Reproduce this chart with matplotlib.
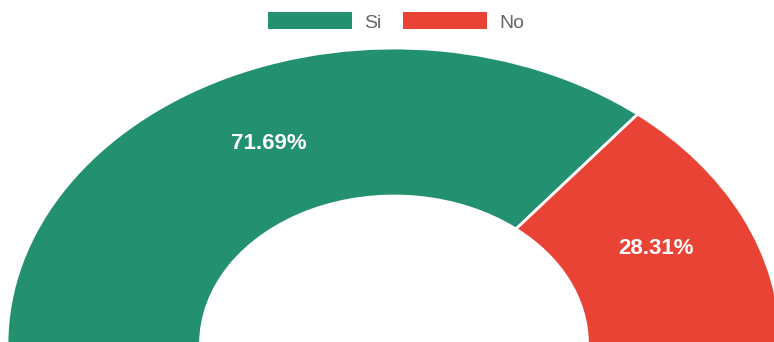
import numpy as np
import matplotlib
matplotlib.use("Agg")
import matplotlib.pyplot as plt
from matplotlib.patches import Patch

# answer shares, in percent
labels = ["Si", "No"]
values = [71.69, 28.31]
colors = ["#239070", "#E94335"]

plt.rcParams["font.family"] = ["Liberation Sans", "DejaVu Sans"]

W, H = 774, 342
fig = plt.figure(figsize=(W / 100, H / 100), dpi=100)
ax = fig.add_axes([0, 0, 1, 1])

# half doughnut: shares of 180 degrees, drawn clockwise from the left
halves = [v / 200 for v in values]
wedges, _ = ax.pie(halves, normalize=False, startangle=180, counterclock=False,
                   colors=colors, radius=1.0,
                   wedgeprops=dict(width=0.5, edgecolor="white", linewidth=2))

# the canvas is wider than tall, so the ring is an ellipse
cx, cy = 394, 344
rx, ry = 387, 296
ax.set_aspect("auto")
ax.set_xlim(-cx / rx, (W - cx) / rx)
ax.set_ylim((cy - H) / ry, cy / ry)
ax.axis("off")

# percentage labels in the middle of each ring segment
for w, v in zip(wedges, values):
    mid = np.deg2rad((w.theta1 + w.theta2) / 2)
    ax.text(0.75 * np.cos(mid), 0.75 * np.sin(mid), f"{v:.2f}%",
            ha="center", va="center", color="white",
            fontsize=16, fontweight="bold")

handles = [Patch(facecolor=c, edgecolor="none") for c in colors]
ax.legend(handles, labels, loc="center", ncol=2, frameon=False,
          bbox_to_anchor=(396 / W, 1 - 22 / H), bbox_transform=fig.transFigure,
          fontsize=14, labelcolor="#666666",
          handlelength=4.35, handleheight=0.95, handletextpad=0.6,
          columnspacing=1.1, borderpad=0)

fig.savefig("out.png", dpi=100)
